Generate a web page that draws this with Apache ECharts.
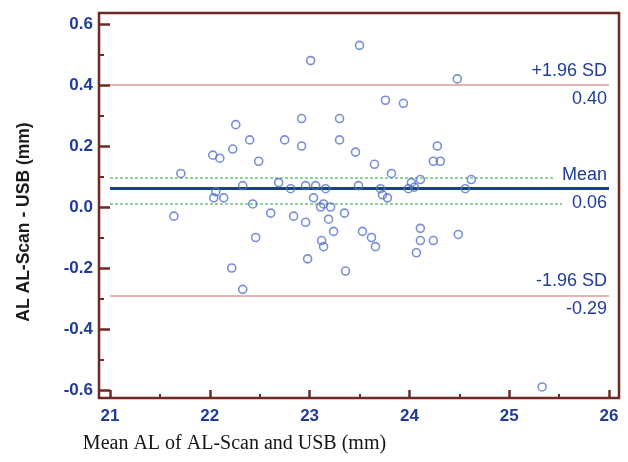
<!DOCTYPE html>
<html>
<head>
<meta charset="utf-8">
<script src="https://cdn.jsdelivr.net/npm/echarts@6/dist/echarts.min.js"></script>
<style>
    html, body { margin: 0; padding: 0; background: #fff; }
    #chart { width: 628px; height: 462px; }
</style>
</head>
<body>
<div id="chart"></div>
<script>
    // mean AL of the two devices (mm)
    const meanAL = [
        21.64, 21.71, 22.03, 22.04, 22.06, 22.10, 22.14, 22.22, 22.23, 22.26,
        22.33, 22.33, 22.40, 22.43, 22.46, 22.49, 22.61, 22.69, 22.75, 22.81,
        22.84, 22.92, 22.92, 22.96, 22.96, 22.98, 23.01, 23.04, 23.06, 23.11,
        23.12, 23.14, 23.14, 23.16, 23.19, 23.21, 23.24, 23.30, 23.30, 23.35,
        23.36, 23.46, 23.49, 23.50, 23.53, 23.62, 23.65, 23.66, 23.71, 23.73,
        23.76, 23.78, 23.82, 23.94, 23.99, 24.02, 24.05, 24.07, 24.11, 24.11,
        24.11, 24.24, 24.24, 24.28, 24.31, 24.48, 24.49, 24.56, 24.62, 25.33
    ];
    // difference AL-Scan - USB (mm)
    const diffAL = [
        -0.03, 0.11, 0.17, 0.03, 0.05, 0.16, 0.03, -0.20, 0.19, 0.27,
        0.07, -0.27, 0.22, 0.01, -0.10, 0.15, -0.02, 0.08, 0.22, 0.06,
        -0.03, 0.29, 0.20, 0.07, -0.05, -0.17, 0.48, 0.03, 0.07, 0.00,
        -0.11, 0.01, -0.13, 0.06, -0.04, 0.00, -0.08, 0.29, 0.22, -0.02,
        -0.21, 0.18, 0.07, 0.53, -0.08, -0.10, 0.14, -0.13, 0.06, 0.04,
        0.35, 0.03, 0.11, 0.34, 0.06, 0.08, 0.065, -0.15, 0.09, -0.07,
        -0.11, 0.15, -0.11, 0.20, 0.15, 0.42, -0.09, 0.06, 0.09, -0.59
    ];

    // agreement lines
    const meanDiff = 0.055;
    const upperLoA = 0.40;
    const lowerLoA = -0.29;
    const meanCI = [0.012, 0.095];
    const ciEnd = [25.53, 25.45];   // where the dotted CI lines stop
    const lineLabels = {
        upper: ['+1.96 SD', '0.40'],
        mean: ['Mean', '0.06'],
        lower: ['-1.96 SD', '-0.29']
    };

    // axes
    const xRange = [21, 26];
    const xStep = 1;
    const yRange = [-0.6, 0.6];
    const yStep = 0.2;

    const frameColor = '#6e2a22';
    const blue = '#1f3c98';

    const points = meanAL.map((x, i) => [x, diffAL[i]]);

    const labelStyle = {
        show: true,
        position: 'insideEnd',
        distance: 2,
        color: blue,
        fontSize: 18,
        fontFamily: 'Liberation Sans, Arial',
        lineHeight: 28
    };

    let myChart = echarts.init(document.getElementById('chart'));
    myChart.setOption({
        animation: false,
        backgroundColor: '#fff',
        grid: [
            {left: 110, right: 19, top: 24, bottom: 72},
            // outer frame
            {left: 99, right: 9, top: 13, bottom: 64, show: true, borderColor: frameColor, borderWidth: 2.5, backgroundColor: 'transparent'}
        ],
        xAxis: [
            {
                type: 'value',
                gridIndex: 0,
                min: xRange[0],
                max: xRange[1],
                interval: xStep,
                offset: 8,
                name: 'Mean AL of AL-Scan and USB (mm)',
                nameLocation: 'middle',
                nameGap: 36,
                nameTextStyle: {
                    fontFamily: 'Liberation Serif, Times New Roman',
                    fontSize: 20,
                    color: '#151515',
                    padding: [0, 250, 0, 0]
                },
                axisLine: {show: false, onZero: false},
                axisTick: {inside: true, length: 8, lineStyle: {color: frameColor, width: 2.5}},
                minorTick: {show: true, splitNumber: 2, length: 4, lineStyle: {color: frameColor, width: 2}},
                axisLabel: {margin: 10, color: blue, fontSize: 17, fontWeight: 'bold', fontFamily: 'Liberation Sans, Arial'},
                splitLine: {show: false}
            },
            {type: 'value', gridIndex: 1, show: false, min: 0, max: 1}
        ],
        yAxis: [
            {
                type: 'value',
                gridIndex: 0,
                min: yRange[0],
                max: yRange[1],
                interval: yStep,
                offset: 11,
                name: 'AL AL-Scan - USB (mm)',
                nameLocation: 'middle',
                nameGap: 66,
                nameTextStyle: {
                    fontFamily: 'Liberation Sans, Arial',
                    fontSize: 17.5,
                    fontWeight: 'bold',
                    color: '#1a1a1a',
                    padding: [0, 30, 0, 0]
                },
                axisLine: {show: false, onZero: false},
                axisTick: {inside: true, length: 11, lineStyle: {color: frameColor, width: 2.5}},
                minorTick: {show: true, splitNumber: 2, length: 5, lineStyle: {color: frameColor, width: 2}},
                axisLabel: {
                    margin: 6,
                    color: blue,
                    fontSize: 17,
                    fontWeight: 'bold',
                    fontFamily: 'Liberation Sans, Arial',
                    formatter: v => v.toFixed(1)
                },
                splitLine: {show: false}
            },
            {type: 'value', gridIndex: 1, show: false, min: 0, max: 1}
        ],
        series: [
            {
                type: 'scatter',
                xAxisIndex: 0,
                yAxisIndex: 0,
                data: points,
                symbol: 'circle',
                symbolSize: 8,
                itemStyle: {color: 'rgba(0,0,0,0)', borderColor: '#5573cc', borderWidth: 1.6},
                emphasis: {disabled: true},
                z: 5,
                markLine: {
                    silent: true,
                    symbol: ['none', 'none'],
                    data: [
                        {
                            yAxis: upperLoA,
                            lineStyle: {color: '#dc9a9a', width: 1.5, type: 'solid'},
                            label: Object.assign({}, labelStyle, {formatter: lineLabels.upper.join('\n')})
                        },
                        {
                            yAxis: lowerLoA,
                            lineStyle: {color: '#dc9a9a', width: 1.5, type: 'solid'},
                            label: Object.assign({}, labelStyle, {formatter: lineLabels.lower.join('\n')})
                        },
                        [
                            {coord: [xRange[0], meanCI[1]], lineStyle: {color: '#6cc27c', width: 1.5, type: [3, 2]}, label: {show: false}},
                            {coord: [ciEnd[1], meanCI[1]]}
                        ],
                        [
                            {coord: [xRange[0], meanCI[0]], lineStyle: {color: '#6cc27c', width: 1.5, type: [3, 2]}, label: {show: false}},
                            {coord: [ciEnd[0], meanCI[0]]}
                        ],
                        {
                            yAxis: meanDiff,
                            lineStyle: {color: '#1b3c9c', width: 3, type: 'solid'},
                            label: Object.assign({}, labelStyle, {formatter: lineLabels.mean.join('\n')})
                        }
                    ]
                }
            }
        ]
    });
</script>
</body>
</html>
